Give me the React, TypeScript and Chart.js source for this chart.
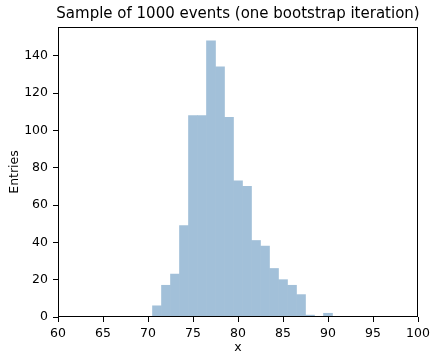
import React, { useEffect, useRef } from "react";
import { Chart, registerables } from "chart.js";

Chart.register(...registerables);

const binCenters = [71, 72, 73, 74, 75, 76, 77, 78, 79, 80, 81, 82, 83, 84, 85, 86, 87, 88, 89, 90];
const counts = [6, 17, 23, 49, 108, 108, 148, 134, 107, 73, 70, 41, 38, 26, 20, 17, 12, 1, 0, 2];
const xRange = [60, 100];
const xStep = 5;
const yRange = [0, 155.4];
const yStep = 20;
const titleText = "Sample of 1000 events (one bootstrap iteration)";
const xLabel = "x";
const yLabel = "Entries";

const FONT = "'DejaVu Sans', sans-serif";

export default function App() {
  const ref = useRef<HTMLCanvasElement | null>(null);
  useEffect(() => {
    if (!ref.current) return;
    const framePlugin = {
      id: "frame",
      afterDraw(chart: any) {
        const { ctx, chartArea } = chart;
        ctx.save();
        ctx.strokeStyle = "#000";
        ctx.lineWidth = 1;
        ctx.strokeRect(
          Math.round(chartArea.left) + 0.5,
          Math.round(chartArea.top) + 0.5,
          Math.round(chartArea.right - chartArea.left) - 1,
          Math.round(chartArea.bottom - chartArea.top) - 1
        );
        ctx.fillStyle = "#000";
        ctx.font = `15px ${FONT}`;
        ctx.textAlign = "center";
        ctx.textBaseline = "middle";
        ctx.fillText(titleText, (chartArea.left + chartArea.right) / 2, 14);
        ctx.restore();
      },
    };
    const chart = new Chart(ref.current, {
      type: "bar",
      data: {
        datasets: [
          {
            data: binCenters.map((x, i) => ({ x, y: counts[i] })),
            backgroundColor: "#a2c0d9",
            borderWidth: 0,
            barPercentage: 1,
            categoryPercentage: 1,
            grouped: false,
          },
        ],
      },
      options: {
        animation: false,
        responsive: false,
        maintainAspectRatio: false,
        layout: { padding: { top: 27, right: 13, left: 0, bottom: 0 } },
        plugins: { legend: { display: false }, tooltip: { enabled: false }, title: { display: false } },
        scales: {
          x: {
            type: "linear",
            min: xRange[0],
            max: xRange[1],
            offset: false,
            afterFit(scale: any) {
              scale.height = 36;
              scale.paddingLeft = 0;
              scale.paddingRight = 0;
            },
            ticks: { stepSize: xStep, color: "#000", font: { family: FONT, size: 12.5 }, padding: 4, maxRotation: 0, autoSkip: false },
            grid: { offset: false, drawOnChartArea: false, drawTicks: true, tickLength: 5, color: "#000" },
            border: { display: false },
            title: { display: true, text: xLabel, color: "#000", font: { family: FONT, size: 12.5, lineHeight: 0.85 }, padding: { top: 0, bottom: 0 } },
          },
          y: {
            type: "linear",
            min: yRange[0],
            max: yRange[1],
            afterFit(scale: any) {
              scale.width = 58;
              scale.paddingTop = 0;
              scale.paddingBottom = 0;
            },
            ticks: { stepSize: yStep, includeBounds: false, color: "#000", font: { family: FONT, size: 12.5 }, padding: 5, autoSkip: false },
            grid: { offset: false, drawOnChartArea: false, drawTicks: true, tickLength: 5, color: "#000" },
            border: { display: false },
            title: { display: true, text: yLabel, color: "#000", font: { family: FONT, size: 12.5 }, padding: { top: 7, bottom: 0 } },
          },
        },
      },
      plugins: [framePlugin],
    } as any);
    return () => chart.destroy();
  }, []);
  return (
    <div style={{ position: "fixed", left: 0, top: 0, width: 431, height: 353, background: "#fff" }}>
      <canvas ref={ref} width={431} height={353} style={{ width: 431, height: 353 }} />
    </div>
  );
}
